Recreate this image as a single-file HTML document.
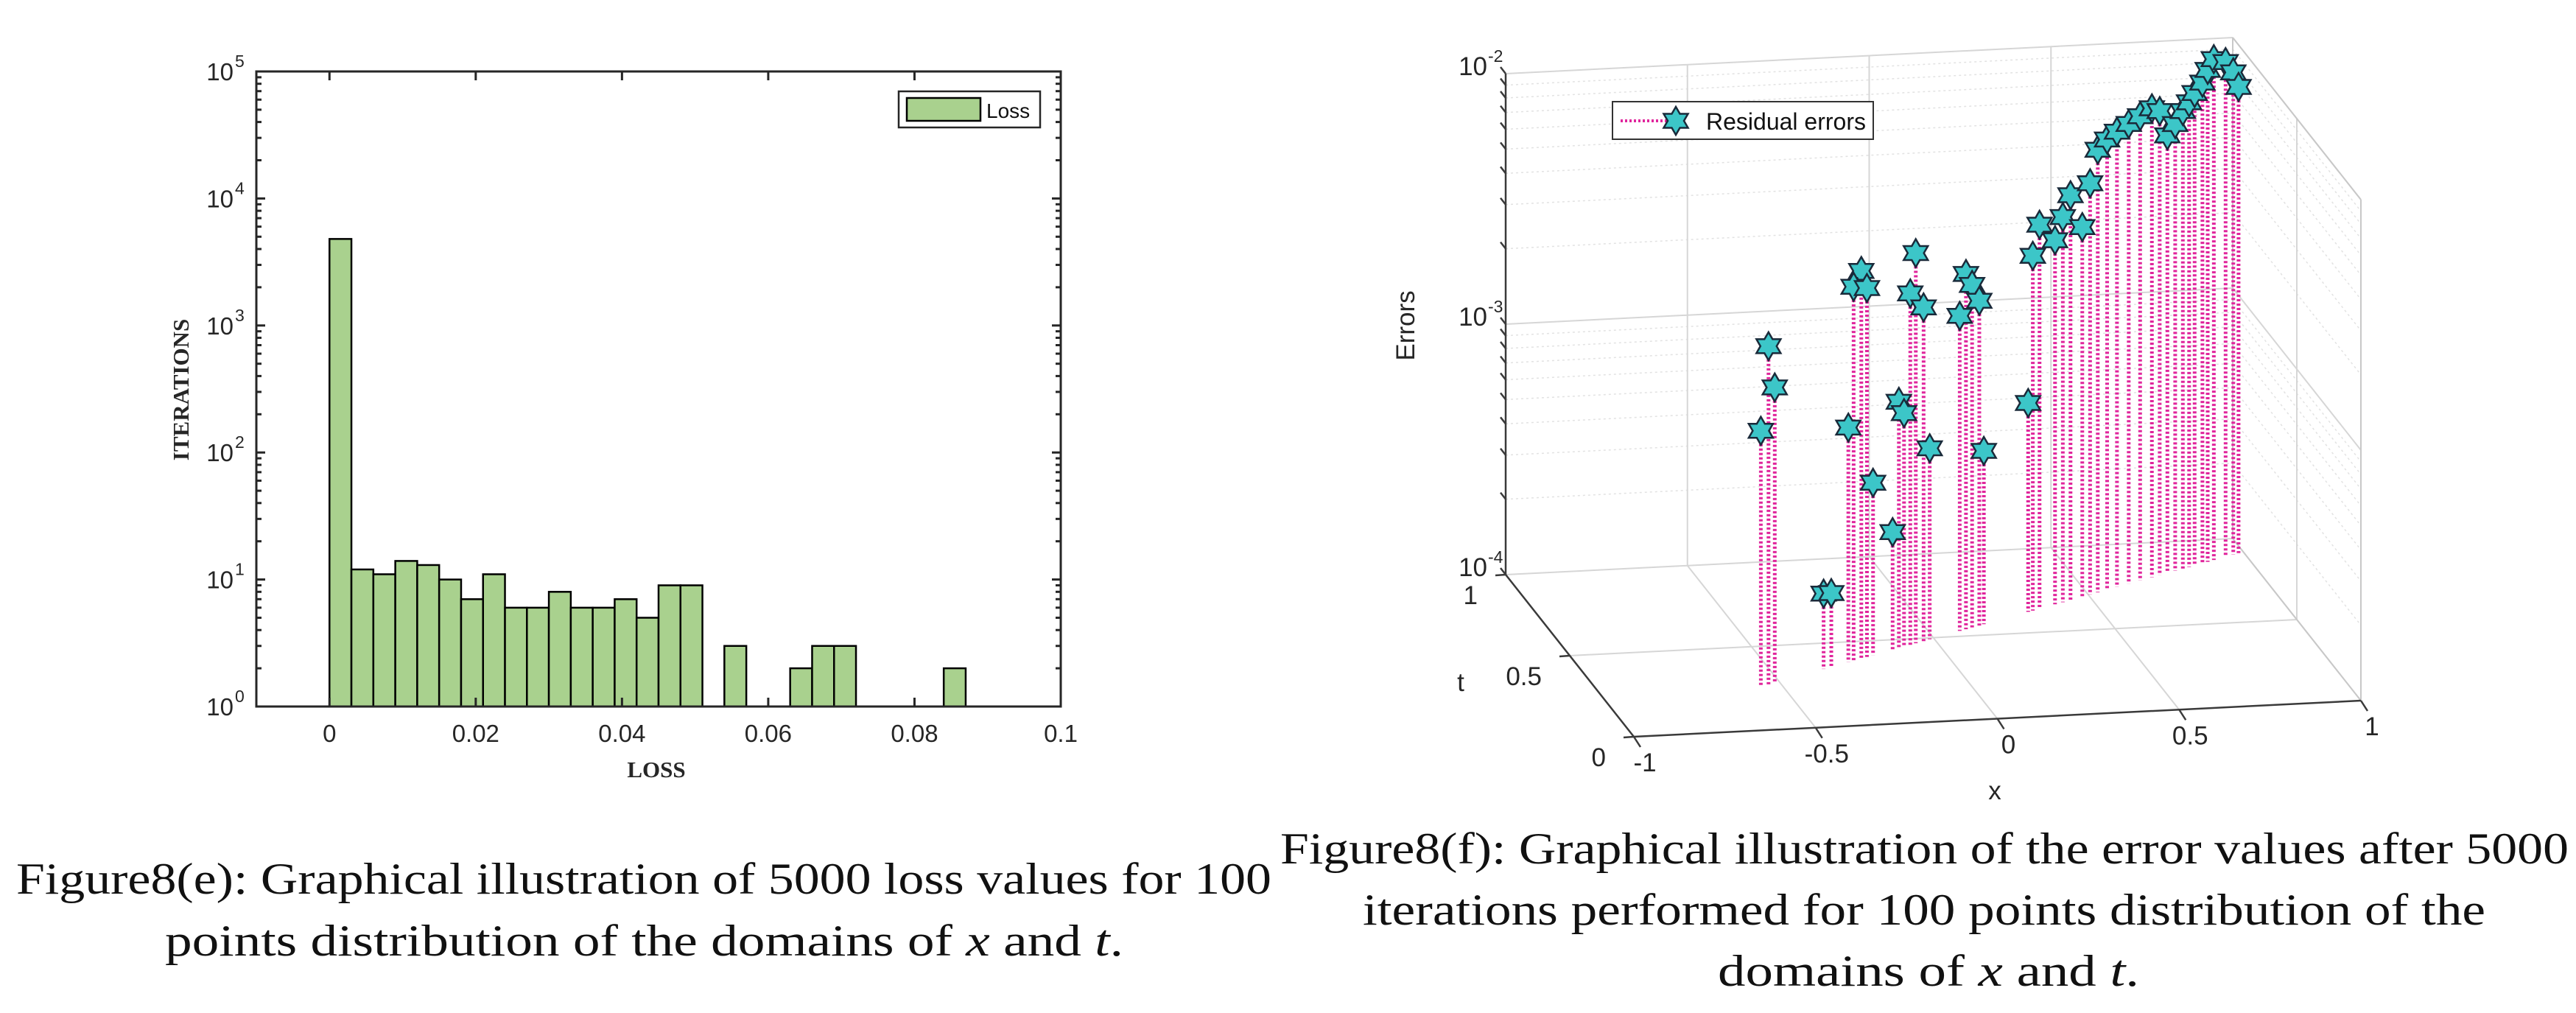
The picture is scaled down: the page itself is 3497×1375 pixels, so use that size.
<!DOCTYPE html>
<html><head><meta charset="utf-8"><style>
html,body{margin:0;padding:0;background:#fff;}
svg{display:block;}
text{font-family:"Liberation Sans",sans-serif;}
.cap{font-family:"Liberation Serif",serif;font-size:60px;fill:#111;}
.serifb{font-family:"Liberation Serif",serif;font-weight:bold;}
</style></head><body>
<svg id="svg" width="3497" height="1375" viewBox="0 0 3497 1375" xmlns="http://www.w3.org/2000/svg">
<g id="left"></g>
<g id="right"></g>
<g>
<text class="cap" x="22" y="1213" textLength="1704" lengthAdjust="spacingAndGlyphs">Figure8(e): Graphical illustration of  5000  loss values for 100</text>
<text class="cap" x="224" y="1297" textLength="1301" lengthAdjust="spacingAndGlyphs">points distribution of the domains of  <tspan font-style="italic">x</tspan>  and  <tspan font-style="italic">t</tspan>.</text>
<text class="cap" x="1738" y="1172" textLength="1749" lengthAdjust="spacingAndGlyphs">Figure8(f): Graphical illustration of the error values after  5000</text>
<text class="cap" x="1850" y="1255" textLength="1524" lengthAdjust="spacingAndGlyphs">iterations performed for  100  points distribution of the</text>
<text class="cap" x="2332" y="1338" textLength="572" lengthAdjust="spacingAndGlyphs">domains of  <tspan font-style="italic">x</tspan>  and <tspan font-style="italic">t</tspan>.</text>
</g>
</svg>
<script>
// ---------- Left chart data ----------
const binLefts = [0,0.003,0.006,0.009,0.012,0.015,0.018,0.021,0.024,0.027,0.030,0.033,0.036,0.039,0.042,0.045,0.048,0.051,0.054,0.057,0.060,0.063,0.066,0.069,0.072,0.075,0.078,0.081,0.084];
const binCounts = [4800,12,11,14,13,10,7,11,6,6,8,6,6,7,5,9,9,0,3,0,0,2,3,3,0,0,0,0,2];
const binWidth = 0.003;
const xTickVals = [0,0.02,0.04,0.06,0.08,0.1];
const xTickLabels = ["0","0.02","0.04","0.06","0.08","0.1"];
const yDecades = [0,1,2,3,4,5];

// ---------- Right chart data ----------
const ptX = [-0.534,-0.514,-0.559,-0.356,-0.331,-0.234,-0.259,-0.216,-0.276,-0.196,-0.058,-0.076,-0.033,-0.113,-0.096,-0.013,-0.133,0.104,0.124,0.147,0.084,0.162,0.305,0.320,0.342,0.392,0.417,0.480,0.442,0.505,0.530,0.560,0.592,0.630,0.667,0.705,0.730,0.755,0.780,0.805,0.825,0.843,0.868,0.885,0.905,0.943,0.968,0.985];
const ptT = [0.271,0.279,0.260,0.346,0.357,0.398,0.387,0.405,0.380,0.414,0.472,0.464,0.482,0.448,0.456,0.491,0.440,0.540,0.549,0.558,0.532,0.565,0.625,0.631,0.641,0.662,0.672,0.699,0.683,0.709,0.720,0.732,0.746,0.762,0.778,0.794,0.804,0.815,0.825,0.836,0.844,0.852,0.862,0.869,0.878,0.894,0.905,0.912];
const ptErr = [0.00224,0.00151,0.00105,0.000200,0.000197,0.00352,0.00311,0.00297,0.000863,0.000488,0.00361,0.00253,0.00215,0.000962,0.000855,0.000579,0.000295,0.00262,0.00233,0.00198,0.00181,0.000492,0.000682,0.00261,0.00341,0.00284,0.00345,0.00299,0.00413,0.00439,0.00585,0.00628,0.00658,0.00685,0.00714,0.00745,0.00713,0.00558,0.00608,0.00671,0.00716,0.00769,0.00830,0.00920,0.0100,0.00944,0.00841,0.00726];
const xAxisTicks = [-1,-0.5,0,0.5,1];
const xAxisLabels = ["-1","-0.5","0","0.5","1"];
const tAxisTicks = [0,0.5,1];
const tAxisLabels = ["0","0.5","1"];
const zDecades = [-4,-3,-2];

const NS = "http://www.w3.org/2000/svg";
function mk(parent, tag, attrs){
  const e = document.createElementNS(NS, tag);
  for (const k in attrs) e.setAttribute(k, attrs[k]);
  parent.appendChild(e);
  return e;
}

// ======== LEFT CHART ========
(function(){
  const g = document.getElementById('left');
  const L=348, R=1440, T=97, B=959;
  const xS = v => L + (v + 0.01) * (R - L) / 0.11;
  const yS = c => B - Math.log10(c) * (B - T) / 5;
  const bars = mk(g,'g',{});
  
  
  binCounts.forEach((c,i)=>{
    if (c <= 1) return;
    const x0 = xS(binLefts[i]), x1 = xS(binLefts[i]+binWidth), y = yS(c);
    const r = mk(bars,'rect',{x:x0,y:y,width:x1-x0,height:B-y,fill:'#a9d18e',stroke:'#000','stroke-width':2.5});
    
    
  });
  const tk = mk(g,'g',{stroke:'#262626','stroke-width':3});
  
  
  xTickVals.forEach(v=>{
    const x = xS(v);
    mk(tk,'line',{x1:x,y1:B,x2:x,y2:B-12});
    mk(tk,'line',{x1:x,y1:T,x2:x,y2:T+12});
  });
  yDecades.forEach(d=>{
    const y = yS(Math.pow(10,d));
    mk(tk,'line',{x1:L,y1:y,x2:L+12,y2:y});
    mk(tk,'line',{x1:R,y1:y,x2:R-12,y2:y});
    if (d < 5) for (let m=2;m<=9;m++){
      const ym = yS(m*Math.pow(10,d));
      mk(tk,'line',{x1:L,y1:ym,x2:L+7,y2:ym});
      mk(tk,'line',{x1:R,y1:ym,x2:R-7,y2:ym});
    }
  });
  const box = mk(g,'rect',{x:L,y:T,width:R-L,height:B-T,fill:'none',stroke:'#262626','stroke-width':3});
  
  
  xTickVals.forEach((v,i)=>{
    const t = mk(g,'text',{x:xS(v),y:1007,'text-anchor':'middle','font-size':33,fill:'#262626'});
    t.textContent = xTickLabels[i];
    
    
  });
  yDecades.forEach(d=>{
    const y = yS(Math.pow(10,d));
    const t = mk(g,'text',{x:317,y:y+12,'text-anchor':'end','font-size':33,fill:'#262626'});
    t.textContent = '10';
    
    
    const s = mk(g,'text',{x:319,y:y-6,'font-size':23,fill:'#262626'});
    s.textContent = String(d);
    
    
  });
  const yt = mk(g,'text',{x:0,y:0,transform:'translate(256,529) rotate(-90)','text-anchor':'middle','font-size':31,'class':'serifb',fill:'#262626'});
  yt.textContent='ITERATIONS';
  
  
  const xt = mk(g,'text',{x:891,y:1055,'text-anchor':'middle','font-size':31,'class':'serifb',fill:'#262626'});
  xt.textContent='LOSS';
  
  
  const lg = mk(g,'g',{});
  
  
  mk(lg,'rect',{x:1220,y:124,width:192,height:49,fill:'#fff',stroke:'#262626','stroke-width':2.5});
  const sw = mk(lg,'rect',{x:1231,y:133,width:100,height:31,fill:'#a9d18e',stroke:'#000','stroke-width':2.5});
  
  
  const lt = mk(lg,'text',{x:1339,y:160,'font-size':28,fill:'#111'});
  lt.textContent='Loss';
  
  
})();

// ======== RIGHT CHART ========
(function(){
  const g = document.getElementById('right');
  const FL=[2218,1000], EX=[987,-49], ET=[-174,-220], ZH=340;
  const P = (x,t,z) => [FL[0] + (x+1)/2*EX[0] + t*ET[0], FL[1] + (x+1)/2*EX[1] + t*ET[1] - (z+4)*ZH];
  const line = (par,a,b,attrs) => mk(par,'line',Object.assign({x1:a[0],y1:a[1],x2:b[0],y2:b[1]},attrs));
  const grid = mk(g,'g',{});
  
  
  const gMaj = {stroke:'#d6d6d6','stroke-width':2};
  const gMin = {stroke:'#e2e2e2','stroke-width':1.5,'stroke-dasharray':'3 4'};
  [-4,-3].forEach(d=>{
    for (let m=2;m<=9;m++){
      const z = d + Math.log10(m);
      line(grid,P(-1,1,z),P(1,1,z),gMin);
      line(grid,P(1,1,z),P(1,0,z),gMin);
    }
  });
  zDecades.forEach(z=>{
    line(grid,P(-1,1,z),P(1,1,z),gMaj);
    line(grid,P(1,1,z),P(1,0,z),gMaj);
  });
  [-0.5,0,0.5].forEach(x=>{
    line(grid,P(x,1,-4),P(x,1,-2),gMaj);
    line(grid,P(x,0,-4),P(x,1,-4),gMaj);
  });
  line(grid,P(-1,0.5,-4),P(1,0.5,-4),gMaj);
  line(grid,P(1,0.5,-4),P(1,0.5,-2),gMaj);
  const lb = {stroke:'#c8c8c8','stroke-width':2};
  line(grid,P(1,1,-4),P(1,1,-2),lb);
  line(grid,P(1,0,-4),P(1,0,-2),lb);
  line(grid,P(1,0,-2),P(1,1,-2),lb);
  line(grid,P(1,0,-4),P(1,1,-4),lb);
  const stems = mk(g,'g',{stroke:'#e0259c','stroke-width':5,'stroke-dasharray':'3 3'});
  
  
  ptX.forEach((x,i)=>{
    const z = Math.log10(ptErr[i]);
    const s = line(stems,P(x,ptT[i],z),P(x,ptT[i],-4),{});
    
    
  });
  const ax = {stroke:'#3a3a3a','stroke-width':2.5};
  const za = line(g,P(-1,1,-4),P(-1,1,-2),ax);
  
  
  const xa = line(g,P(-1,0,-4),P(1,0,-4),ax);
  
  
  const ta = line(g,P(-1,0,-4),P(-1,1,-4),ax);
  
  
  [-4,-3].forEach(d=>{
    for (let m=1;m<=9;m++){
      const p = P(-1,1,d+Math.log10(m));
      line(g,p,[p[0]-7,p[1]-9],ax);
    }
  });
  const pt = P(-1,1,-2); line(g,pt,[pt[0]-7,pt[1]-9],ax);
  xAxisTicks.forEach((x,i)=>{
    const p = P(x,0,-4);
    line(g,p,[p[0]+9,p[1]+14],ax);
    const t = mk(g,'text',{x:p[0]+15,y:p[1]+47,'text-anchor':'middle','font-size':35,fill:'#262626'});
    t.textContent = xAxisLabels[i];
    
    
  });
  tAxisTicks.forEach((tv,i)=>{
    const p = P(-1,tv,-4);
    line(g,p,[p[0]-14,p[1]+1],ax);
    const t = mk(g,'text',{x:p[0]-38,y:p[1]+40,'text-anchor':'end','font-size':35,fill:'#262626'});
    t.textContent = tAxisLabels[i];
    
    
  });
  zDecades.forEach(z=>{
    const p = P(-1,1,z);
    const t = mk(g,'text',{x:p[0]-25,y:p[1]+2,'text-anchor':'end','font-size':35,fill:'#262626'});
    t.textContent = '10';
    
    
    const s = mk(g,'text',{x:p[0]-24,y:p[1]-16,'font-size':23,fill:'#262626'});
    s.textContent = String(z);
    
    
  });
  const xl = mk(g,'text',{x:2708,y:1085,'text-anchor':'middle','font-size':35,fill:'#262626'});
  xl.textContent='x';
  
  
  const tl = mk(g,'text',{x:1983,y:938,'text-anchor':'middle','font-size':35,fill:'#262626'});
  tl.textContent='t';
  
  
  const el = mk(g,'text',{x:0,y:0,transform:'translate(1920,442) rotate(-90)','text-anchor':'middle','font-size':35,fill:'#262626'});
  el.textContent='Errors';
  
  
  const starPath = (cx,cy,R) => {
    let d=''; const r = R/Math.sqrt(3);
    for (let k=0;k<12;k++){
      const a = -Math.PI/2 + k*Math.PI/6, rr = (k%2===0)?R:r;
      d += (k?'L':'M') + (cx+rr*Math.cos(a)).toFixed(1) + ' ' + (cy+rr*Math.sin(a)).toFixed(1);
    }
    return d+'Z';
  };
  const stars = mk(g,'g',{fill:'#3cc6c8',stroke:'#1a2a3a','stroke-width':2.5});
  
  
  ptX.forEach((x,i)=>{
    const p = P(x,ptT[i],Math.log10(ptErr[i]));
    const s = mk(stars,'path',{d:starPath(p[0],p[1],19)});
    
    
  });
  const lg = mk(g,'g',{});
  
  
  mk(lg,'rect',{x:2189,y:138,width:354,height:51,fill:'#fff',stroke:'#333','stroke-width':2});
  mk(lg,'line',{x1:2200,y1:164,x2:2290,y2:164,stroke:'#e0259c','stroke-width':4,'stroke-dasharray':'3 3'});
  mk(lg,'path',{d:starPath(2275,164,19),fill:'#3cc6c8',stroke:'#1a2a3a','stroke-width':2.5});
  const lt = mk(lg,'text',{x:2316,y:176,'font-size':32,fill:'#111'});
  lt.textContent='Residual errors';
  
  
})();
</script>
</body></html>
